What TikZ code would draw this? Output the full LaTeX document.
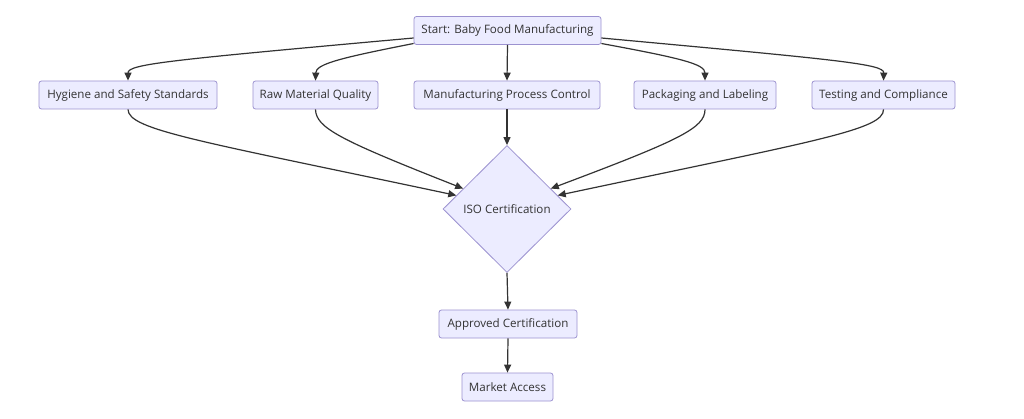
\documentclass[tikz,border=0pt]{standalone}
\usepackage{fontspec}
\setmainfont{Open Sans}
\usetikzlibrary{arrows.meta,shapes.geometric}
\definecolor{nodefill}{HTML}{ECECFF}
\definecolor{nodeborder}{HTML}{9C92D0}
\definecolor{edgecol}{HTML}{333333}
\definecolor{txtcol}{HTML}{333333}
\begin{document}
\begin{tikzpicture}[x=1pt,y=-1pt,
  box/.style={draw=nodeborder, fill=nodefill, rounded corners=2.5pt, line width=0.8pt,
    minimum height=28pt, inner sep=0pt, text=txtcol, font=\fontsize{11.6}{13}\selectfont},
  dia/.style={draw=nodeborder, fill=nodefill, diamond, line width=0.8pt,
    minimum width=128pt, minimum height=127pt, inner sep=0pt, text=txtcol, font=\fontsize{11.6}{13}\selectfont},
  arr/.style={draw=edgecol, line width=1.2pt, -{Triangle[length=8pt,width=7pt]}}]
\useasboundingbox (0,0) rectangle (1024,419);
\fill[white] (0,0) rectangle (1024,419);

\node[box, minimum width=187pt] (start) at (507.5,30.5) {Start: Baby Food Manufacturing};
\node[box, minimum width=178pt] (hyg) at (128,95) {Hygiene and Safety Standards};
\node[box, minimum width=125pt] (raw) at (315.5,95) {Raw Material Quality};
\node[box, minimum width=186pt] (mpc) at (507,95) {Manufacturing Process Control};
\node[box, minimum width=142pt] (pack) at (705,95) {Packaging and Labeling};
\node[box, minimum width=143pt] (test) at (883.5,95) {Testing and Compliance};
\node[dia] (iso) at (507,209) {ISO Certification};
\node[box, minimum width=138pt] (appr) at (508,324) {Approved Certification};
\node[box, minimum width=91pt] (mkt) at (507.5,387) {Market Access};

% start to children
\draw[arr] ([yshift=-7.5pt]start.west) .. controls (170,60) and (128,64) .. (hyg.north);
\draw[arr] ([yshift=-13pt]start.west) .. controls (340,58) and (316,64) .. (raw.north);
\draw[arr] (start.south) -- (mpc.north);
\draw[arr] ([yshift=-13pt]start.east) .. controls (680,58) and (705,64) .. (pack.north);
\draw[arr] ([yshift=-7.5pt]start.east) .. controls (840,60) and (884,64) .. (test.north);

% children to ISO
\draw[arr] (hyg.south) .. controls (128,130) and (200,141) .. (iso.165);
\draw[arr] (raw.south) .. controls (316,128) and (340,140) .. (iso.155);
\draw[arr] (mpc.south) -- (iso.north);
\draw[arr] (pack.south) .. controls (705,128) and (680,140) .. (iso.25);
\draw[arr] (test.south) .. controls (884,130) and (814,141) .. (iso.15);

\draw[arr] (iso.south) -- (appr.north);
\draw[arr] (appr.south) -- (mkt.north);
\end{tikzpicture}
\end{document}
